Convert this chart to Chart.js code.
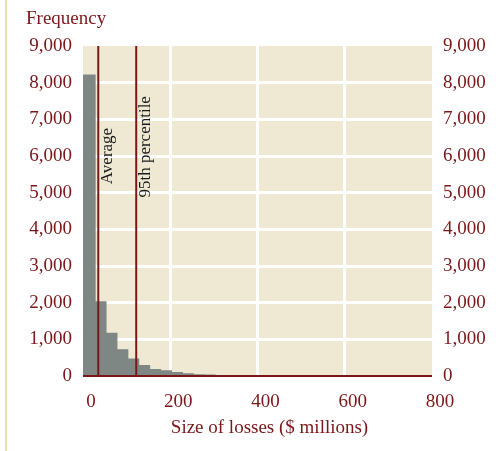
<!DOCTYPE html>
<html>
<head>
<meta charset="utf-8">
<script src="https://cdn.jsdelivr.net/npm/chart.js@4"></script>
<style>
  html, body { margin: 0; padding: 0; background: #fff; }
  canvas { display: block; }
</style>
</head>
<body>
<canvas id="chart" width="504" height="451"></canvas>
<script>
// histogram bins ($ millions) and counts
const binEdges = [0, 29, 54, 79, 104, 129, 154, 179, 204, 229, 254, 279, 304, 329, 354, 379, 404];
const binCounts = [8220, 2040, 1180, 730, 480, 300, 190, 155, 110, 75, 45, 40, 30, 15, 10, 5];

const averageLoss = 35;
const percentile95 = 122;

const xTicks = [0, 200, 400, 600, 800];
const yTicks = [0, 1000, 2000, 3000, 4000, 5000, 6000, 7000, 8000, 9000];

const RED = '#7b1619';
const BEIGE = '#efe9d4';
const GREY = '#7e8783';

Chart.defaults.font.family = '"Liberation Serif", serif';
Chart.defaults.color = RED;

const histData = binEdges.map((e, i) => ({ x: e, y: i < binCounts.length ? binCounts[i] : 0 }));

function vline(v) {
    return [{ x: v, y: 0 }, { x: v, y: 9000 }];
}

// background, axis line and the free text
const decorations = {
    id: 'decorations',
    beforeDraw(chart) {
        const { ctx, chartArea } = chart;
        ctx.save();
        ctx.fillStyle = '#e9ddb5';
        ctx.fillRect(5, 0, 2, chart.height);
        ctx.fillStyle = BEIGE;
        ctx.fillRect(chartArea.left, chartArea.top, chartArea.right - chartArea.left, chartArea.bottom - chartArea.top);
        ctx.restore();
    },
    afterDatasetsDraw(chart) {
        const { ctx, chartArea, scales } = chart;
        const y0 = scales.y.getPixelForValue(0);
        ctx.save();
        ctx.strokeStyle = RED;
        ctx.lineWidth = 2;
        ctx.beginPath();
        ctx.moveTo(chartArea.left, y0);
        ctx.lineTo(chartArea.right, y0);
        ctx.stroke();

        // vertical labels beside the lines
        ctx.fillStyle = '#1a1a1a';
        ctx.font = '17px "Liberation Serif", serif';
        ctx.textAlign = 'center';
        ctx.textBaseline = 'alphabetic';
        const labels = [['Average', averageLoss, 6000], ['95th percentile', percentile95, 6250]];
        labels.forEach(([txt, xv, yv]) => {
            ctx.save();
            ctx.translate(scales.x.getPixelForValue(xv) + 14, scales.y.getPixelForValue(yv));
            ctx.rotate(-Math.PI / 2);
            ctx.fillText(txt, 0, 0);
            ctx.restore();
        });

        // titles
        ctx.fillStyle = RED;
        ctx.font = '19px "Liberation Serif", serif';
        ctx.textAlign = 'left';
        ctx.fillText('Frequency', 26, 24);
        ctx.textAlign = 'center';
        ctx.fillText('Size of losses ($ millions)', (chartArea.left + chartArea.right) / 2 + 12, 433);
        ctx.restore();
    }
};

const gridColorX = c => (c.tick && (c.tick.value === 0 || c.tick.value === 800)) ? 'rgba(0,0,0,0)' : '#ffffff';
const gridColorY = c => (c.tick && (c.tick.value === 0 || c.tick.value === 9000)) ? 'rgba(0,0,0,0)' : '#ffffff';
const fmt = v => v.toLocaleString('en-US');

new Chart(document.getElementById('chart').getContext('2d'), {
    type: 'line',
    data: {
        datasets: [
            {
                data: vline(averageLoss),
                borderColor: RED,
                borderWidth: 2,
                pointRadius: 0,
                fill: false,
                order: 0
            },
            {
                data: vline(percentile95),
                borderColor: RED,
                borderWidth: 2,
                pointRadius: 0,
                fill: false,
                order: 0
            },
            {
                data: histData,
                stepped: 'before',
                fill: 'origin',
                backgroundColor: GREY,
                borderWidth: 0,
                pointRadius: 0,
                order: 1
            }
        ]
    },
    options: {
        responsive: false,
        animation: false,
        layout: { padding: { top: 46, left: 0, right: 0, bottom: 0 } },
        plugins: {
            legend: { display: false },
            tooltip: { enabled: false }
        },
        scales: {
            x: {
                type: 'linear',
                min: 0,
                max: 800,
                afterBuildTicks: s => { s.ticks = xTicks.map(v => ({ value: v })); },
                afterFit: s => { s.height = 75; },
                grid: { color: gridColorX, lineWidth: 3, drawTicks: false },
                border: { display: false },
                ticks: { font: { size: 19 }, padding: 15, labelOffset: 8, maxRotation: 0, callback: fmt }
            },
            y: {
                min: 0,
                max: 9000,
                afterBuildTicks: s => { s.ticks = yTicks.map(v => ({ value: v })); },
                afterFit: s => { s.width = 83; },
                grid: { color: gridColorY, lineWidth: 3, drawTicks: false },
                border: { display: false },
                ticks: { font: { size: 19 }, padding: 11, callback: fmt }
            },
            y2: {
                position: 'right',
                min: 0,
                max: 9000,
                afterBuildTicks: s => { s.ticks = yTicks.map(v => ({ value: v })); },
                afterFit: s => { s.width = 72; },
                grid: { display: false, drawTicks: false },
                border: { display: false },
                ticks: { font: { size: 19 }, padding: 11, callback: fmt }
            }
        }
    },
    plugins: [decorations]
});
</script>
</body>
</html>
